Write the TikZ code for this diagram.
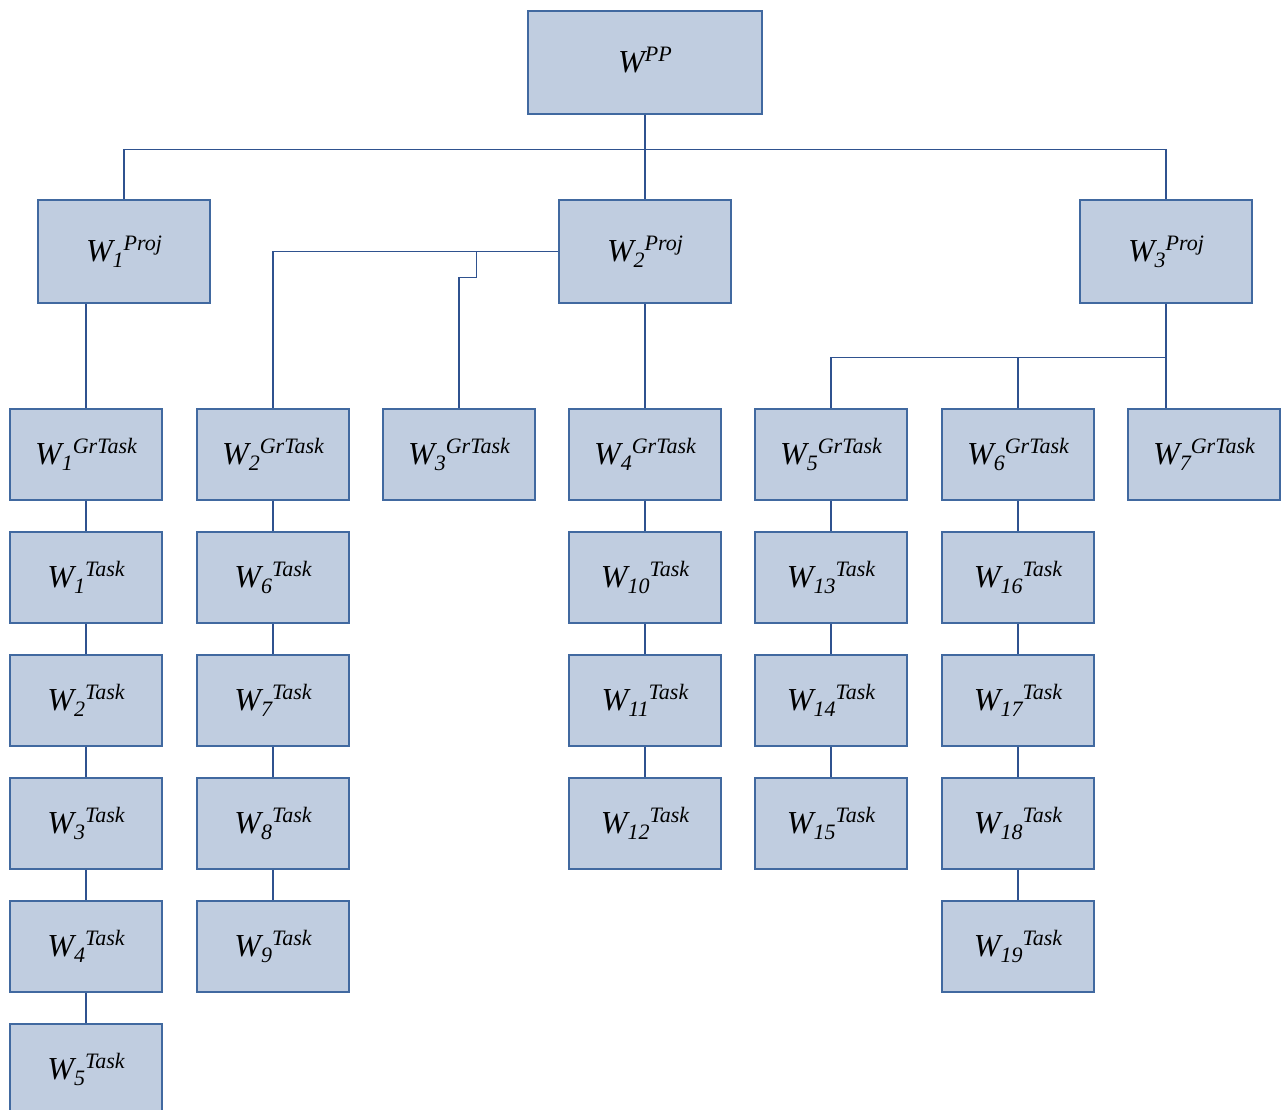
\documentclass[tikz,border=0pt]{standalone}
\usepackage{fontspec}
\setmainfont{Liberation Serif}
\usetikzlibrary{positioning}
\definecolor{boxfill}{RGB}{192,205,224}
\definecolor{boxline}{RGB}{65,105,160}
\definecolor{wirecol}{RGB}{47,82,143}
\newcommand{\wlab}[2]{{\fontsize{16}{16}\selectfont\itshape W\raisebox{-3pt}{\fontsize{11}{11}\selectfont #1}\raisebox{5.5pt}{\fontsize{11}{11}\selectfont #2}}}
\begin{document}
\begin{tikzpicture}[
            x=0.5pt, y=-0.5pt,
            node distance=15.3pt,
            wbox/.style={draw=boxline, fill=boxfill, line width=0.7pt,
            inner sep=0pt, align=center},
            pp/.style={wbox, minimum width=117pt, minimum height=51.5pt},
            proj/.style={wbox, minimum width=86pt, minimum height=51.5pt},
            task/.style={wbox, minimum width=76pt, minimum height=45.5pt},
            wire/.style={draw=wirecol, line width=0.6pt}
        ]
\useasboundingbox (0,0) rectangle (1284,1109);
% top: whole portfolio
            \node[pp]   (top) at (645,62.5)   {\wlab{}{PP}};
% second row: projects
            \node[proj] (p1)  at (124,251.5)  {\wlab{1}{Proj}};
            \node[proj] (p2)  at (645,251.5)  {\wlab{2}{Proj}};
            \node[proj] (p3)  at (1166,251.5) {\wlab{3}{Proj}};
% third row: task groups
            \node[task] (g1)  at (86,454.5)   {\wlab{1}{GrTask}};
            \node[task] (g2)  at (273,454.5)  {\wlab{2}{GrTask}};
            \node[task] (g3)  at (459,454.5)  {\wlab{3}{GrTask}};
            \node[task] (g4)  at (645,454.5)  {\wlab{4}{GrTask}};
            \node[task] (g5)  at (831,454.5)  {\wlab{5}{GrTask}};
            \node[task] (g6)  at (1018,454.5) {\wlab{6}{GrTask}};
            \node[task] (g7)  at (1204,454.5) {\wlab{7}{GrTask}};
% columns of tasks
            \node[task, below=of g1]  (t1)  {\wlab{1}{Task}};
            \node[task, below=of t1]  (t2)  {\wlab{2}{Task}};
            \node[task, below=of t2]  (t3)  {\wlab{3}{Task}};
            \node[task, below=of t3]  (t4)  {\wlab{4}{Task}};
            \node[task, below=of t4]  (t5)  {\wlab{5}{Task}};
            \node[task, below=of g2]  (t6)  {\wlab{6}{Task}};
            \node[task, below=of t6]  (t7)  {\wlab{7}{Task}};
            \node[task, below=of t7]  (t8)  {\wlab{8}{Task}};
            \node[task, below=of t8]  (t9)  {\wlab{9}{Task}};
            \node[task, below=of g4]  (t10) {\wlab{10}{Task}};
            \node[task, below=of t10] (t11) {\wlab{11}{Task}};
            \node[task, below=of t11] (t12) {\wlab{12}{Task}};
            \node[task, below=of g5]  (t13) {\wlab{13}{Task}};
            \node[task, below=of t13] (t14) {\wlab{14}{Task}};
            \node[task, below=of t14] (t15) {\wlab{15}{Task}};
            \node[task, below=of g6]  (t16) {\wlab{16}{Task}};
            \node[task, below=of t16] (t17) {\wlab{17}{Task}};
            \node[task, below=of t17] (t18) {\wlab{18}{Task}};
            \node[task, below=of t18] (t19) {\wlab{19}{Task}};
% portfolio to projects
            \draw[wire] (top.south) -- ++(0,35) -| (p1.north);
            \draw[wire] (top.south) -- (p2.north);
            \draw[wire] (top.south) -- ++(0,35) -| (p3.north);
% projects to task groups
            \draw[wire] (g1.north) -- (g1.north |- p1.south);
            \draw[wire] (p2.west) -| (g2.north);
            \draw[wire] (p2.west) -- ++(-82,0) -- ++(0,26) -| (g3.north);
            \draw[wire] (p2.south) -- (g4.north);
            \draw[wire] (p3.south) -- ++(0,54) -| (g5.north);
            \draw[wire] (p3.south) -- ++(0,54) -| (g6.north);
            \draw[wire] (p3.south) -- (p3.south |- g7.north);
% task chains
            \draw[wire] (g1) -- (t1) -- (t2) -- (t3) -- (t4) -- (t5);
            \draw[wire] (g2) -- (t6) -- (t7) -- (t8) -- (t9);
            \draw[wire] (g4) -- (t10) -- (t11) -- (t12);
            \draw[wire] (g5) -- (t13) -- (t14) -- (t15);
            \draw[wire] (g6) -- (t16) -- (t17) -- (t18) -- (t19);
        \end{tikzpicture}
\end{document}
